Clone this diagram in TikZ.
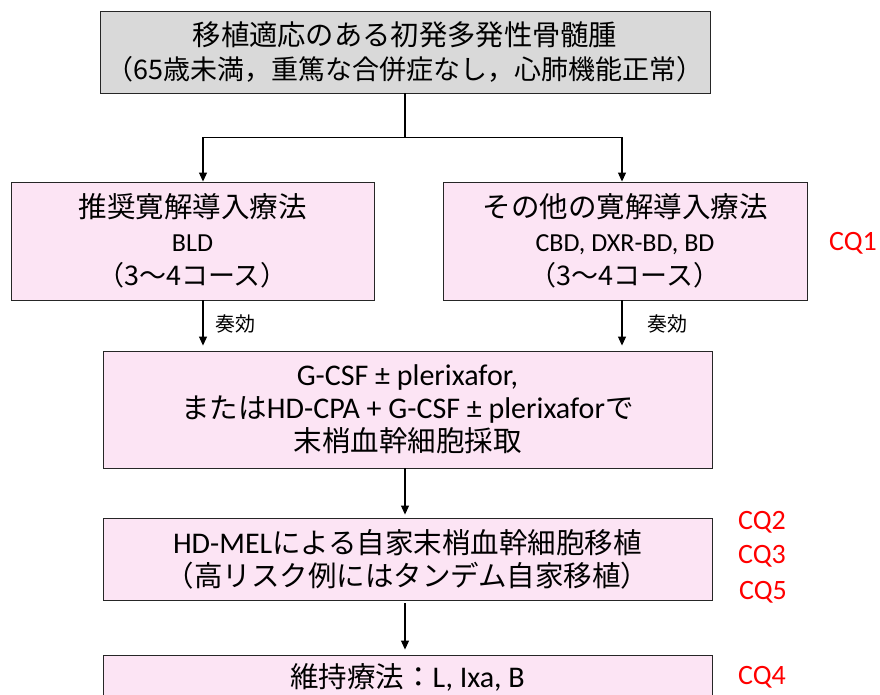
\documentclass[tikz,border=0pt]{standalone}
\usepackage{fontspec}
\setmainfont{Carlito}
\newfontfamily\jp{Noto Sans CJK JP}
\usetikzlibrary{arrows.meta}
\definecolor{boxpink}{HTML}{FCE4F4}
\definecolor{boxgrey}{HTML}{D9D9D9}
\definecolor{cqred}{HTML}{FF0000}
\newcommand{\jpa}[1]{{\jp\fontsize{28.5}{33}\selectfont #1}}
\tikzset{
  basebox/.style={draw=black!85, line width=0.9pt, align=center, inner sep=0pt},
  greybox/.style={basebox, fill=boxgrey, font=\jp\fontsize{27}{34}\selectfont},
  pinkbox/.style={basebox, fill=boxpink, font=\fontsize{26}{34}\selectfont},
  bigpink/.style={basebox, fill=boxpink, font=\fontsize{30}{33}\selectfont},
  conn/.style={line width=1.1pt, draw=black},
  arr/.style={conn, -{Triangle[length=9pt,width=8pt]}},
  cq/.style={text=cqred, font=\fontsize{28}{30}\selectfont, inner sep=0pt},
  lbl/.style={font=\jp\fontsize{20}{24}\selectfont, inner sep=0pt}
}
\begin{document}
\begin{tikzpicture}[x=1pt,y=-1pt]
\useasboundingbox (0,0) rectangle (880,694);
\clip (0,0) rectangle (880,694);
\node[greybox, minimum width=610pt, minimum height=82pt] (top) at (405,52)
  {{\fontsize{28.3}{34}\selectfont 移植適応のある初発多発性骨髄腫}\\（65歳未満，重篤な合併症なし，心肺機能正常）};
\node[pinkbox, minimum width=363pt, minimum height=118pt] (left) at (192.5,241)
  {{\jp\fontsize{28.5}{34}\selectfont 推奨寛解導入療法}\\BLD\\{\jp\fontsize{27}{34}\selectfont （3～4コース）}};
\node[pinkbox, minimum width=364pt, minimum height=118pt] (right) at (625,241)
  {{\jp\fontsize{28.5}{34}\selectfont その他の寛解導入療法}\\CBD, DXR-BD, BD\\{\jp\fontsize{27}{34}\selectfont （3～4コース）}};
\node[bigpink, minimum width=609pt, minimum height=117pt] (gcsf) at (407.5,409.5)
  {G-CSF ± plerixafor,\\\jpa{または}HD-CPA + G-CSF ± plerixafor\jpa{で}\\\jpa{末梢血幹細胞採取}};
\node[bigpink, minimum width=609pt, minimum height=82pt] (asct) at (407.5,559)
  {HD-MEL\jpa{による自家末梢血幹細胞移植}\\\jpa{（高リスク例にはタンデム自家移植）}};
\node[bigpink, minimum width=609pt, minimum height=44pt] (maint) at (407.5,677)
  {\jpa{維持療法：}L, Ixa, B};

\coordinate (xl) at (203,0);
\coordinate (xr) at (622,0);
\coordinate (xm) at (405,0);

\draw[conn] (top.south -| xm) -- ++(0,44) coordinate (j);
\draw[arr] (j) -| (xl |- left.north);
\draw[arr] (j) -| (xr |- right.north);
\draw[arr, shorten >=5pt] (xl |- left.south) -- (xl |- gcsf.north);
\draw[arr, shorten >=5pt] (xr |- right.south) -- (xr |- gcsf.north);
\draw[arr, shorten >=3pt] (xm |- gcsf.south) -- (xm |- asct.north);
\draw[arr, shorten >=5pt, shorten <=3pt] (xm |- asct.south) -- (xm |- maint.north);

\node[lbl] (r1) at (235,324) {奏効};
\node[lbl] (r2) at (667,324) {奏効};

\node[cq] (cq1) at (853,243) {CQ1};
\node[cq] (cq2) at (762,522) {CQ2};
\node[cq] (cq3) at (762,556) {CQ3};
\node[cq] (cq5) at (763,592) {CQ5};
\node[cq] (cq4) at (762,677) {CQ4};
\end{tikzpicture}
\end{document}
